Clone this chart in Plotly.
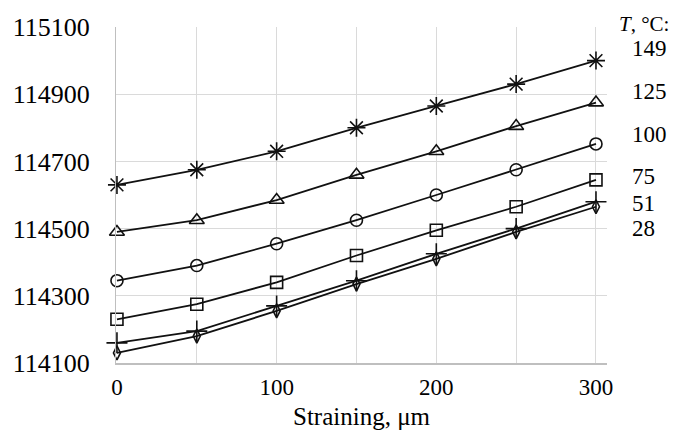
import plotly.graph_objects as go

straining = [0, 50, 100, 150, 200, 250, 300]
temps = ["149", "125", "100", "75", "51", "28"]
t149 = [114630, 114675, 114730, 114800, 114865, 114930, 115000]
t125 = [114490, 114525, 114585, 114660, 114730, 114805, 114875]
t100 = [114345, 114390, 114455, 114525, 114600, 114675, 114752]
t75 = [114230, 114275, 114340, 114420, 114495, 114565, 114645]
t51 = [114160, 114195, 114270, 114345, 114425, 114500, 114580]
t28 = [114130, 114180, 114255, 114335, 114410, 114490, 114565]
series = [t149, t125, t100, t75, t51, t28]
symbols = ["asterisk-open", "triangle-up-open", "circle-open", "square-open", "cross-thin-open", "diamond-tall-open"]
sizes = [15, 13, 12, 12, 15, 10]
label_y = [0.9375, 0.807, 0.679, 0.554, 0.476, 0.399]

xticks = [0, 50, 100, 150, 200, 250, 300]
xticktext = ["0", "", "100", "", "200", "", "300"]
yticks = [114100, 114300, 114500, 114700, 114900, 115100]

SERIF = "Liberation Serif"
fig = go.Figure()
for name, vals, sym, sz in zip(temps, series, symbols, sizes):
    fig.add_trace(go.Scatter(
        x=straining, y=vals, name=name, mode="lines+markers",
        line=dict(color="#111111", width=1.8),
        marker=dict(symbol=sym, size=sz, color="#111111",
                    line=dict(color="#111111", width=1.6)),
        cliponaxis=False, showlegend=False,
    ))

ann = [dict(text="<i>T</i>, °C:", xref="paper", yref="paper", x=1.02, y=1.01,
            xanchor="left", yanchor="middle", showarrow=False,
            font=dict(family=SERIF, size=21, color="black"))]
for name, ly in zip(temps, label_y):
    ann.append(dict(text=name, xref="paper", yref="paper", x=1.046, y=ly,
                    xanchor="left", yanchor="middle", showarrow=False,
                    font=dict(family=SERIF, size=23, color="black")))

fig.update_layout(
    width=675, height=441,
    margin=dict(l=116, r=68, t=27, b=78),
    paper_bgcolor="white", plot_bgcolor="white",
    font=dict(family=SERIF, color="black"),
    annotations=ann,
    xaxis=dict(range=[-0.6, 306.9], tickvals=xticks, ticktext=xticktext,
               showgrid=True, gridcolor="#dadada", gridwidth=1.2,
               zeroline=False, showline=True, linecolor="#bfbfbf", linewidth=1.5,
               tickfont=dict(family=SERIF, size=23, color="black"),
               ticks="", ticklabelstandoff=3,
               title=dict(text="Straining, μm", font=dict(family=SERIF, size=25, color="black"), standoff=8)),
    yaxis=dict(range=[114100, 115100], tickvals=yticks, tickformat="d",
               showgrid=True, gridcolor="#dadada", gridwidth=1.2,
               zeroline=False, showline=True, linecolor="#bfbfbf", linewidth=1.2,
               tickfont=dict(family=SERIF, size=26, color="black"),
               ticks="", ticklabelstandoff=20),
)
fig.write_html("out.html", config={"displayModeBar": False},
               post_script="document.body.style.margin='0';document.body.style.padding='0';")
